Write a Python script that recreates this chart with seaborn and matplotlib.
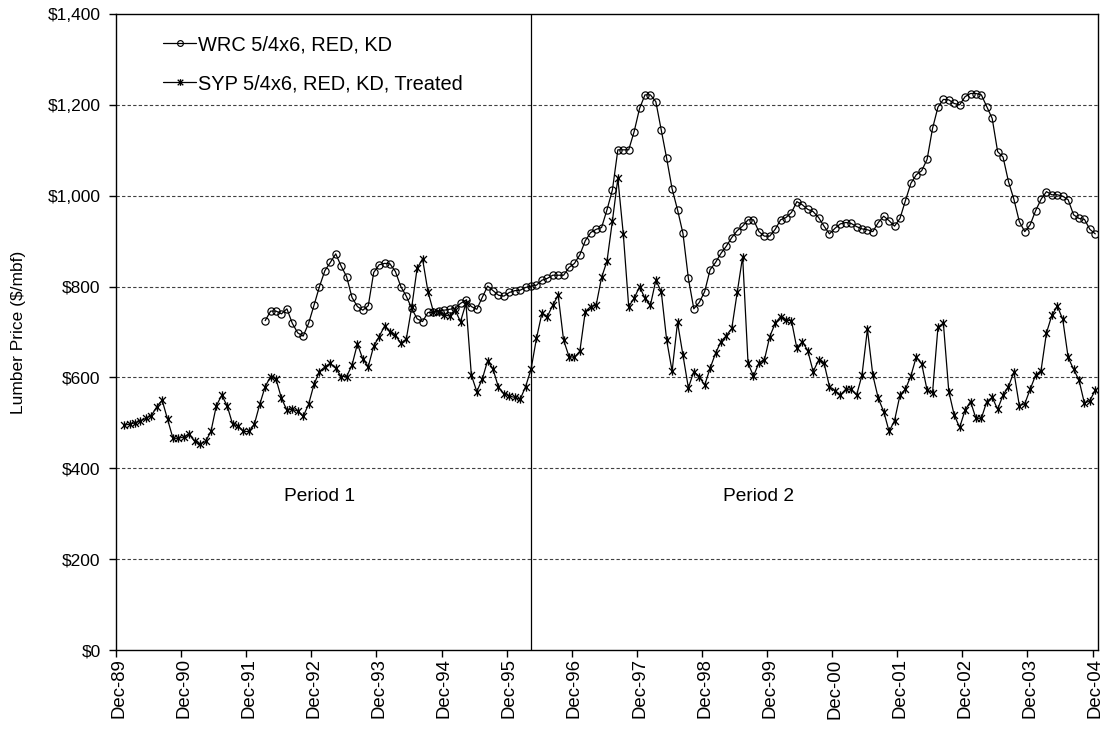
import numpy as np
import pandas as pd
import matplotlib
matplotlib.use("Agg")
import matplotlib.pyplot as plt
from matplotlib.path import Path
import seaborn as sns

# ---------------- data (monthly, index 0 = Dec-89) ----------------
syp_start = 1  # Jan-90
syp_values = [
    495, 497, 500, 504, 510, 516, 535, 550, 508, 466, 466, 469, 475, 459, 453, 459, 481, 538, 561, 537,
    497, 493, 481, 481, 497, 541, 580, 602, 596, 554, 528, 530, 526, 514, 541, 585, 613, 623, 631, 620,
    602, 602, 627, 674, 640, 624, 669, 690, 713, 701, 693, 675, 684, 754, 840, 861, 789, 745, 744, 738,
    735, 748, 723, 763, 605, 569, 596, 637, 618, 578, 564, 559, 556, 552, 580, 618, 686, 741, 734, 759,
    781, 682, 646, 644, 658, 745, 756, 759, 820, 856, 945, 1038, 916, 756, 774, 800, 774, 759, 814, 789,
    682, 614, 721, 649, 577, 613, 602, 583, 620, 653, 679, 692, 708, 787, 866, 631, 603, 632, 638, 690,
    719, 734, 726, 725, 664, 679, 659, 613, 638, 632, 580, 571, 561, 574, 574, 561, 605, 706, 605, 554,
    525, 481, 505, 561, 574, 603, 645, 630, 572, 566, 710, 719, 569, 517, 490, 528, 547, 510, 510, 547,
    556, 530, 561, 580, 612, 538, 542, 574, 605, 615, 698, 737, 757, 728, 644, 618, 594, 543, 549, 572,
]
wrc_start = 27  # Mar-92
wrc_values = [
    725, 746, 746, 740, 751, 719, 698, 691, 719, 759, 800, 835, 853, 872, 845, 822, 776, 756, 748, 758,
    831, 848, 851, 850, 833, 800, 779, 752, 729, 723, 743, 743, 747, 748, 750, 752, 763, 770, 756, 750,
    776, 801, 791, 781, 779, 787, 791, 792, 798, 801, 803, 814, 818, 825, 825, 825, 842, 851, 870, 901,
    919, 926, 930, 969, 1013, 1101, 1101, 1101, 1141, 1192, 1222, 1222, 1207, 1145, 1082, 1015, 969, 917, 818, 751,
    765, 789, 837, 853, 873, 889, 908, 923, 933, 947, 947, 921, 911, 911, 926, 947, 952, 963, 987, 980,
    970, 965, 952, 933, 916, 928, 938, 941, 939, 932, 927, 925, 921, 941, 955, 945, 933, 950, 989, 1027,
    1046, 1055, 1080, 1148, 1195, 1212, 1211, 1203, 1200, 1218, 1225, 1225, 1222, 1196, 1170, 1097, 1085, 1031, 992, 943,
    921, 936, 967, 992, 1009, 1002, 1002, 999, 991, 958, 950, 948, 926, 916,
]
wrc_label = "WRC 5/4x6, RED, KD"
syp_label = "SYP 5/4x6, RED, KD, Treated"
years = ["89", "90", "91", "92", "93", "94", "95", "96", "97", "98", "99", "00", "01", "02", "03", "04"]
tick_labels = ["Dec-" + y for y in years]
yticks = [0, 200, 400, 600, 800, 1000, 1200, 1400]
period_break = 76  # Apr-96
period_labels = ["Period 1", "Period 2"]

# ---------------- frames ----------------
syp_df = pd.DataFrame({"month": np.arange(syp_start, syp_start + len(syp_values)), "price": syp_values})
wrc_df = pd.DataFrame({"month": np.arange(wrc_start, wrc_start + len(wrc_values)), "price": wrc_values})

sns.set_theme(style="white")
plt.rcParams["font.family"] = ["Liberation Sans", "DejaVu Sans"]
plt.rcParams["text.color"] = "black"
plt.rcParams["axes.labelcolor"] = "black"
plt.rcParams["xtick.color"] = "black"
plt.rcParams["ytick.color"] = "black"

fig = plt.figure(figsize=(11.04, 7.36), dpi=100)
ax = fig.add_axes([116 / 1104, 1 - 650 / 736, (1098 - 116) / 1104, (650 - 14) / 736])

star = Path([(-1, -1), (1, 1), (-1, 1), (1, -1), (0, -1.2), (0, 1.2)],
            [Path.MOVETO, Path.LINETO, Path.MOVETO, Path.LINETO, Path.MOVETO, Path.LINETO])

sns.lineplot(data=wrc_df, x="month", y="price", ax=ax, color="black", lw=0.9,
             marker="o", markersize=5.2, markerfacecolor="none", markeredgecolor="black",
             markeredgewidth=0.85, label=wrc_label)
sns.lineplot(data=syp_df, x="month", y="price", ax=ax, color="black", lw=0.9,
             marker=star, markersize=6.0, markerfacecolor="none", markeredgecolor="black",
             markeredgewidth=0.95, label=syp_label)

ax.axvline(period_break, color="black", lw=0.9)
ax.text(37, 337, period_labels[0], ha="center", va="center", fontsize=13.8, color="black")
ax.text(118, 337, period_labels[1], ha="center", va="center", fontsize=13.8, color="black")

ax.set_xlim(-0.5, 180.5)
ax.set_ylim(0, 1400)
ax.set_yticks(yticks)
ax.set_yticklabels(["${:,}".format(v) for v in yticks], fontsize=12.5)
for v in yticks[1:-1]:
    ax.axhline(v, color="#404040", lw=0.8, ls=(0, (3, 2)), zorder=0)

major = np.arange(0, 181, 12)
ax.set_xticks(major)
ax.set_xticklabels(tick_labels, rotation=90, fontsize=13.4)
ax.set_xticks(major - 0.5, minor=True)
ax.tick_params(axis="x", which="major", length=0, pad=6)
ax.tick_params(axis="x", which="minor", length=5, width=1, direction="out", color="black", bottom=True)
ax.tick_params(axis="y", length=5, width=1, direction="out", color="black", left=True, pad=6)

ax.set_xlabel("")
ax.set_ylabel("Lumber Price ($/mbf)", fontsize=12.5)
ax.yaxis.set_label_coords(-0.092, 0.5)

for s in ax.spines.values():
    s.set_color("black")
    s.set_linewidth(1.0)
    s.set_visible(True)

leg = ax.legend(loc="upper left", bbox_to_anchor=(0.03, 0.995), frameon=False, fontsize=14.4,
                handlelength=1.65, handletextpad=0.1, labelspacing=1.0, markerscale=0.8)

fig.savefig("out.png", dpi=100)
